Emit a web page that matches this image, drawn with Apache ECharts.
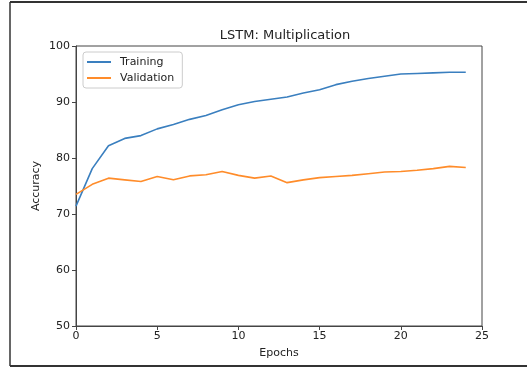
<!DOCTYPE html>
<html>
<head>
<meta charset="utf-8">
<script src="https://cdn.jsdelivr.net/npm/echarts@6/dist/echarts.min.js"></script>
<style>
  html, body { margin: 0; padding: 0; background: #fff; }
  #main { width: 527px; height: 368px; }
</style>
</head>
<body>
<div id="main"></div>
<script>
var epochs = [];
for (var i = 0; i < 25; i++) epochs.push(i);

var training = [71.4, 78.1, 82.2, 83.5, 84.0, 85.2, 86.0, 86.9, 87.6, 88.6,
  89.5, 90.1, 90.5, 90.9, 91.6, 92.2, 93.1, 93.7, 94.2, 94.6,
  95.0, 95.1, 95.2, 95.3, 95.3];
var validation = [73.5, 75.3, 76.4, 76.1, 75.8, 76.7, 76.1, 76.8, 77.0, 77.6,
  76.9, 76.4, 76.8, 75.6, 76.1, 76.5, 76.7, 76.9, 77.2, 77.5,
  77.6, 77.8, 78.1, 78.5, 78.3];

var font = 'DejaVu Sans';
var axisColor = '#444';

function pairs(arr) {
  return arr.map(function(v, i) { return [epochs[i], v]; });
}

var myChart = echarts.init(document.getElementById('main'), null, { renderer: 'canvas' });

var option = {
  animation: false,
  backgroundColor: '#fff',
  title: {
    text: 'LSTM: Multiplication',
    left: 280,
    top: 24,
    textAlign: 'center',
    textStyle: { fontFamily: font, fontSize: 13, fontWeight: 'normal', color: '#222' }
  },
  legend: {
    orient: 'vertical',
    left: 83,
    top: 52,
    icon: 'rect',
    itemWidth: 24,
    itemHeight: 2,
    itemGap: 2,
    padding: [3, 8, 3, 4],
    borderColor: '#ccc',
    borderWidth: 1,
    borderRadius: 3,
    backgroundColor: '#fff',
    textStyle: { fontFamily: font, fontSize: 11, color: '#222', padding: [0, 0, 0, 4], lineHeight: 14 },
    data: ['Training', 'Validation']
  },
  grid: {
    left: 76,
    right: 45,
    top: 46,
    bottom: 42,
    show: true,
    borderColor: axisColor,
    borderWidth: 1
  },
  xAxis: {
    type: 'value',
    min: 0,
    max: 25,
    interval: 5,
    name: 'Epochs',
    nameLocation: 'middle',
    nameGap: 22,
    nameMoveOverlap: false,
    nameTextStyle: { fontFamily: font, fontSize: 11, color: '#222' },
    axisLine: { show: true, lineStyle: { color: axisColor } },
    axisTick: { show: true, length: 4, lineStyle: { color: axisColor } },
    axisLabel: { fontFamily: font, fontSize: 11, color: '#222', margin: 5 },
    splitLine: { show: false }
  },
  yAxis: {
    type: 'value',
    min: 50,
    max: 100,
    interval: 10,
    name: 'Accuracy',
    nameLocation: 'middle',
    nameGap: 34,
    nameMoveOverlap: false,
    nameTextStyle: { fontFamily: font, fontSize: 11, color: '#222' },
    axisLine: { show: true, lineStyle: { color: axisColor } },
    axisTick: { show: true, length: 4, lineStyle: { color: axisColor } },
    axisLabel: { fontFamily: font, fontSize: 11, color: '#222', margin: 6 },
    splitLine: { show: false }
  },
  graphic: [
    { type: 'line', shape: { x1: 10, y1: 2, x2: 10, y2: 366 }, style: { stroke: '#333', lineWidth: 1.5 } },
    { type: 'line', shape: { x1: 10, y1: 2, x2: 527, y2: 2 }, style: { stroke: '#333', lineWidth: 2 } },
    { type: 'line', shape: { x1: 10, y1: 366, x2: 527, y2: 366 }, style: { stroke: '#333', lineWidth: 2 } }
  ],
  series: [
    {
      name: 'Training',
      type: 'line',
      data: pairs(training),
      symbol: 'none',
      color: '#3a7fbf',
      lineStyle: { width: 1.6, color: '#3a7fbf' }
    },
    {
      name: 'Validation',
      type: 'line',
      data: pairs(validation),
      symbol: 'none',
      color: '#ff8c2a',
      lineStyle: { width: 1.6, color: '#ff8c2a' }
    }
  ]
};

myChart.setOption(option);
</script>
</body>
</html>
